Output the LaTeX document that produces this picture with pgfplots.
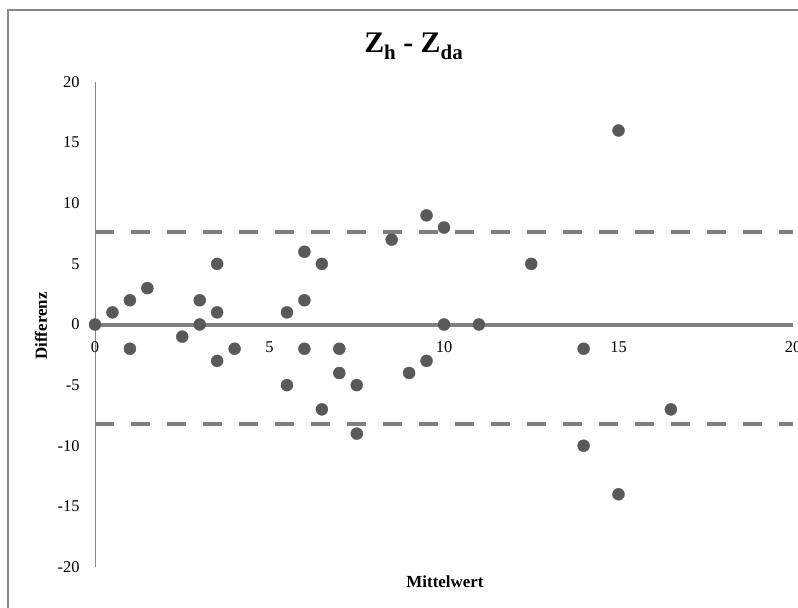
\documentclass[border=0pt]{standalone}
\usepackage{pgfplots}
\pgfplotsset{compat=1.18}
\usepackage{fontspec}
\setmainfont{Liberation Serif}
\definecolor{ptc}{HTML}{595959}
\definecolor{lnc}{HTML}{808080}
\definecolor{frc}{HTML}{878787}
\begin{document}
\begin{tikzpicture}[x=1bp,y=1bp]
\useasboundingbox (0,0) rectangle (798,-608);
\draw[frc,line width=1.5bp] (8,-608) -- (8,-10) -- (798,-10);
\begin{axis}[
  at={(95bp,-82bp)}, anchor=north west,
  scale only axis, width=698bp, height=485bp,
  xmin=0, xmax=20, ymin=-20, ymax=20,
  axis x line=middle, axis y line=left,
  x axis line style={lnc, line width=4bp, -},
  y axis line style={frc, line width=1bp, -},
  xtick={0,5,...,20}, ytick={-20,-15,...,20},
  major tick length=0pt,
  hide obscured x ticks=false, hide obscured y ticks=false,
  clip=false,
  /pgf/number format/assume math mode=true,
  ticklabel style={font=\fontsize{16.5}{18}\selectfont},
  xticklabel style={yshift=-14bp},
  yticklabel style={xshift=-12bp},
]
\addplot[lnc, line width=4bp, dash pattern=on 19bp off 17bp, forget plot] coordinates {(0,7.63) (20,7.63)};
\addplot[lnc, line width=4bp, dash pattern=on 19bp off 17bp, forget plot] coordinates {(0,-8.21) (20,-8.21)};
\addplot[only marks, mark=*, mark size=6bp, mark options={ptc, fill=ptc}] coordinates {
(0,0) (0.5,1) (1,2) (1,-2) (1.5,3) (2.5,-1) (3,2) (3,0)
(3.5,5) (3.5,1) (3.5,-3) (4,-2) (5.5,1) (5.5,-5)
(6,6) (6,2) (6,-2) (6.5,5) (6.5,-7) (7,-2) (7,-4)
(7.5,-5) (7.5,-9) (8.5,7) (9,-4) (9.5,9) (9.5,-3)
(10,8) (10,0) (11,0) (12.5,5) (14,-2) (14,-10)
(15,16) (15,-14) (16.5,-7)
};
\end{axis}
\node[font=\fontsize{30}{32}\selectfont\bfseries, anchor=base] at (413.5,-53)
  {Z\raisebox{-0.22em}{\fontsize{21}{22}\selectfont h} - Z\raisebox{-0.22em}{\fontsize{21}{22}\selectfont da}};
\node[font=\fontsize{17}{18}\selectfont\bfseries, rotate=90] at (41,-326) {Differenz};
\node[font=\fontsize{17}{18}\selectfont\bfseries] at (445,-582) {Mittelwert};
\end{tikzpicture}
\end{document}
